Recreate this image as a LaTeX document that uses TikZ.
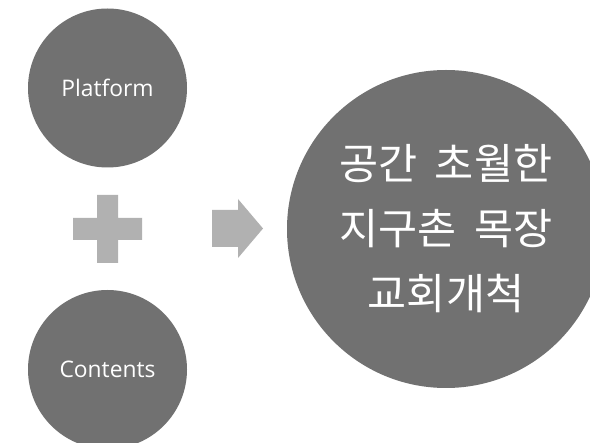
\documentclass[tikz,border=0pt]{standalone}
\usepackage{fontspec}
\setmainfont{Open Sans}
\newfontfamily\krfont{Noto Sans CJK KR}
\definecolor{circgray}{RGB}{113,113,113}
\definecolor{symgray}{RGB}{177,177,177}
\tikzset{
  ball/.style={circle, fill=circgray, draw=none, inner sep=0pt, text=white, align=center},
  symbol/.style={fill=symgray, draw=none}
}
\begin{document}
\begin{tikzpicture}[x=1pt, y=-1pt]
\useasboundingbox (0,0) rectangle (590,443);
\fill[white] (0,0) rectangle (590,443);
\clip (0,0) rectangle (590,443);
\node[ball, minimum size=159pt, font=\fontsize{22.8}{27}\selectfont] (platform) at (107.5,88) {Platform};
\node[ball, minimum size=159pt, font=\fontsize{22.8}{27}\selectfont] (contents) at (107.5,369.5) {Contents};
\node[ball, minimum size=318pt, font=\krfont\fontsize{42.5}{65}\selectfont] (goal) at (446,229)
  {공간\hspace{0.4em}초월한\\지구촌\hspace{0.4em}목장\\교회개척};
% plus sign
\fill[symbol] (97,195) -- (118,195) -- (118,218) -- (142,218) -- (142,240) -- (118,240)
  -- (118,263) -- (97,263) -- (97,240) -- (73,240) -- (73,218) -- (97,218) -- cycle;
% arrow
\fill[symbol] (212,210) -- (238,210) -- (238,199) -- (263,228.5) -- (238,258)
  -- (238,247) -- (212,247) -- cycle;
\end{tikzpicture}
\end{document}
